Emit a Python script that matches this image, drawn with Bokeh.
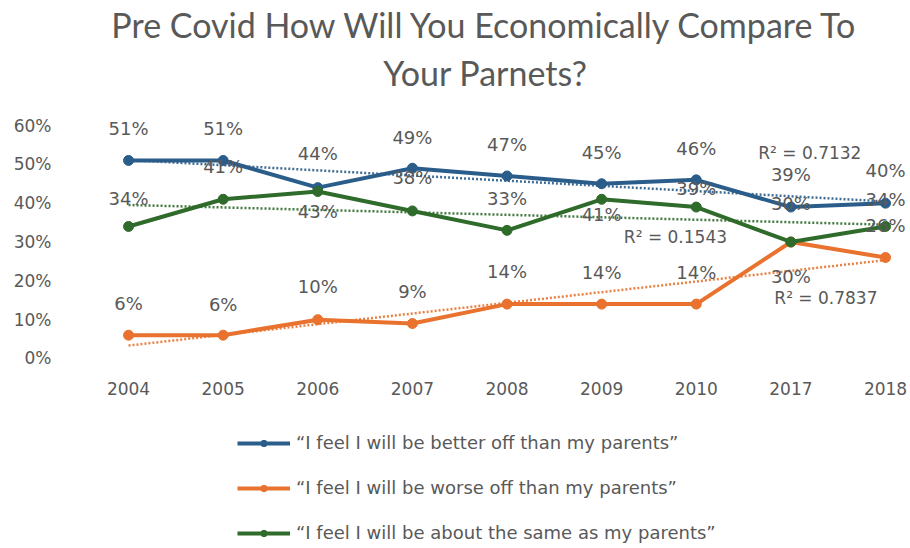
from bokeh.plotting import figure
from bokeh.models import (Range1d, FixedTicker, Legend, LegendItem, Label, Title,
                          ColumnDataSource)
from bokeh.embed import file_html
from bokeh.resources import INLINE
from bokeh.core.properties import value
import numpy as np

# ---------------- data ----------------
years = ["2004", "2005", "2006", "2007", "2008", "2009", "2010", "2017", "2018"]
better = [51, 51, 44, 49, 47, 45, 46, 39, 40]
worse = [6, 6, 10, 9, 14, 14, 14, 30, 26]
same = [34, 41, 43, 38, 33, 41, 39, 30, 34]
y_ticks = [0, 10, 20, 30, 40, 50, 60]
names = ["\u201cI feel I will be better off than my parents\u201d",
         "\u201cI feel I will be worse off than my parents\u201d",
         "\u201cI feel I will be about the same as my parents\u201d"]
r2_texts = ["R\u00b2 = 0.7132", "R\u00b2 = 0.7837", "R\u00b2 = 0.1543"]
title_1 = "Pre Covid How Will You Economically Compare To"
title_2 = "Your Parnets?"

# ---------------- styling ----------------
colors = ["#2b5d8b", "#e8722e", "#2f6b2a"]
label_dy = [
    [-32, -32, -34, -31, -31, -31, -31, -33, -33],
    [-32, -31, -33, -32, -33, -32, -32, 35, -32],
    [-28, -33, 20, -33, -32, 15, -19, -38, -27],
]
r2_pos = [(7.2, 52.8), (7.37, 15.7), (5.78, 31.2)]
TXT = "#595959"
FONT = "DejaVu Sans"

x_idx = list(range(len(years)))

p = figure(width=908, height=546, output_backend="svg", toolbar_location=None,
           x_range=Range1d(-0.698, 8.243), y_range=Range1d(-48.42, 66.44),
           min_border_left=62, min_border_right=0, min_border_bottom=0,
           min_border_top=100, title=None)
p.outline_line_color = None
p.xgrid.visible = False
p.ygrid.visible = False

# titles (second line added first: it sits nearest the plot)
for txt, so in ((title_2, 15), (title_1, -5)):
    p.add_layout(Title(text=txt, align="center", text_font="Lato",
                       text_font_size="34px", text_color=TXT,
                       text_font_style="normal", standoff=so), "above")

# axes
p.yaxis.ticker = FixedTicker(ticks=y_ticks)
p.yaxis.major_label_overrides = {t: f"{t}%" for t in y_ticks}
p.xaxis.ticker = FixedTicker(ticks=x_idx)
p.xaxis.major_label_overrides = {i: y for i, y in zip(x_idx, years)}
p.xaxis.fixed_location = -4.38
for ax in (p.xaxis, p.yaxis):
    ax.axis_line_color = None
    ax.major_tick_line_color = None
    ax.minor_tick_line_color = None
    ax.major_label_text_font = FONT
    ax.major_label_text_font_size = "17px"
    ax.major_label_text_color = TXT
p.yaxis.major_label_standoff = 5
p.xaxis.major_label_standoff = 1

series = [better, worse, same]
items = []
for vals, col, name in zip(series, colors, names):
    src = ColumnDataSource(dict(x=x_idx, y=vals))
    lr = p.line("x", "y", source=src, line_color=col, line_width=4)
    sr = p.scatter("x", "y", source=src, size=10, fill_color=col, line_color=col)
    items.append(LegendItem(label=name, renderers=[lr, sr]))

# linear trendlines
for vals, col, r2, pos in zip(series, colors, r2_texts, r2_pos):
    k, b = np.polyfit(x_idx, vals, 1)
    xs = [x_idx[0], x_idx[-1]]
    p.line(xs, [k * xs[0] + b, k * xs[1] + b], line_color=col, line_width=2.5,
           line_dash="2 2", line_alpha=0.9)
    p.add_layout(Label(x=pos[0], y=pos[1], text=r2, text_font=FONT,
                       text_font_size="17px", text_color=TXT, text_align="center",
                       text_baseline="middle"))

# data labels
for vals, dys in zip(series, label_dy):
    src = ColumnDataSource(dict(x=x_idx, y=vals, t=[f"{v}%" for v in vals], dy=dys))
    p.text("x", "y", text="t", source=src, y_offset="dy", text_font=value(FONT),
           text_font_size="18px", text_color=TXT, text_align="center",
           text_baseline="middle")

legend = Legend(items=items, location=(175, 3), orientation="vertical",
                label_text_font=FONT, label_text_font_size="18px",
                label_text_color=TXT, glyph_width=53, glyph_height=16,
                label_height=16, spacing=24, padding=0, margin=0,
                label_standoff=6, border_line_color=None,
                background_fill_alpha=0)
p.add_layout(legend)

open("out.html", "w").write(file_html(p, INLINE))
